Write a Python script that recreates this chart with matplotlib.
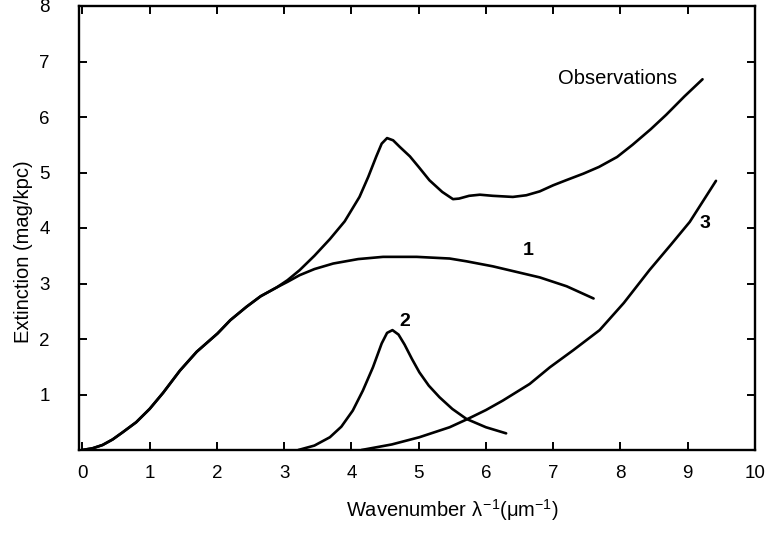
import matplotlib
matplotlib.use("Agg")
import matplotlib.pyplot as plt

plt.rcParams['font.family'] = ['Liberation Sans', 'DejaVu Sans']
plt.rcParams['mathtext.fontset'] = 'custom'
plt.rcParams['mathtext.rm'] = 'Liberation Sans'
plt.rcParams['mathtext.it'] = 'Liberation Sans'
plt.rcParams['mathtext.bf'] = 'Liberation Sans:bold'

# Observed extinction curve
obs_x = [0.0, 0.15, 0.3, 0.45, 0.6, 0.8, 1.0, 1.2, 1.45, 1.7, 2.01, 2.2, 2.44, 2.65,
         2.89, 3.05, 3.23, 3.45, 3.68, 3.9, 4.12, 4.25, 4.37, 4.45, 4.53, 4.62, 4.72,
         4.87, 5.0, 5.16, 5.35, 5.51, 5.6, 5.75, 5.91, 6.1, 6.4, 6.6, 6.8, 7.0, 7.19,
         7.45, 7.68, 7.95, 8.18, 8.45, 8.68, 8.95, 9.22]
obs_y = [0.0, 0.03, 0.09, 0.19, 0.32, 0.50, 0.74, 1.03, 1.43, 1.77, 2.10, 2.34, 2.58, 2.77,
         2.93, 3.06, 3.24, 3.50, 3.80, 4.12, 4.56, 4.92, 5.29, 5.52, 5.62, 5.58, 5.46,
         5.29, 5.10, 4.86, 4.65, 4.52, 4.53, 4.58, 4.60, 4.58, 4.56, 4.59, 4.66, 4.77, 4.86,
         4.98, 5.10, 5.28, 5.50, 5.78, 6.04, 6.37, 6.68]

# Component 1 (shares the rising part with the observations up to ~2.9)
c1_x = [0.0, 0.15, 0.3, 0.45, 0.6, 0.8, 1.0, 1.2, 1.45, 1.7, 2.01, 2.2, 2.44, 2.65,
        2.89, 3.05, 3.23, 3.45, 3.73, 4.1, 4.47, 4.97, 5.46, 5.71, 6.1, 6.45, 6.8,
        7.2, 7.6]
c1_y = [0.0, 0.03, 0.09, 0.19, 0.32, 0.50, 0.74, 1.03, 1.43, 1.77, 2.10, 2.34, 2.58, 2.77,
        2.93, 3.03, 3.15, 3.26, 3.36, 3.44, 3.48, 3.48, 3.45, 3.40, 3.31, 3.21, 3.11,
        2.95, 2.73]

# Component 2 (bump near 4.6)
c2_x = [3.21, 3.45, 3.68, 3.85, 4.02, 4.17, 4.32, 4.45, 4.53, 4.61, 4.70, 4.79, 4.9,
        5.01, 5.15, 5.31, 5.5, 5.71, 6.0, 6.3]
c2_y = [0.0, 0.08, 0.23, 0.42, 0.71, 1.07, 1.49, 1.92, 2.11, 2.16, 2.08, 1.90, 1.64,
        1.40, 1.16, 0.95, 0.74, 0.56, 0.41, 0.30]

# Component 3 (far-UV rise)
c3_x = [4.15, 4.6, 5.01, 5.46, 5.73, 6.0, 6.25, 6.65, 6.95, 7.3, 7.69, 8.05, 8.43,
        8.75, 9.03, 9.42]
c3_y = [0.0, 0.10, 0.23, 0.41, 0.56, 0.72, 0.89, 1.19, 1.49, 1.80, 2.16, 2.65, 3.24,
        3.70, 4.11, 4.85]

x_ticks = [0, 1, 2, 3, 4, 5, 6, 7, 8, 9, 10]
y_ticks = [1, 2, 3, 4, 5, 6, 7, 8]

fig = plt.figure(figsize=(7.75, 5.37), dpi=100)
ax = fig.add_axes([79 / 775, 1 - 450 / 537, 676 / 775, 444 / 537])

for xs, ys in [(obs_x, obs_y), (c1_x, c1_y), (c2_x, c2_y), (c3_x, c3_y)]:
    ax.plot(xs, ys, color="black", lw=1.9, solid_capstyle="round",
            solid_joinstyle="round")

ax.text(7.96, 6.70, "Observations", fontsize=14.5, ha="center", va="center")
ax.text(6.63, 3.60, "1", fontsize=14, fontweight="bold", ha="center", va="center")
ax.text(4.79, 2.31, "2", fontsize=14, fontweight="bold", ha="center", va="center")
ax.text(9.25, 4.08, "3", fontsize=14, fontweight="bold", ha="center", va="center")

ax.set_xlim(-0.05, 10)
ax.set_ylim(0, 8)
ax.set_xticks(x_ticks)
ax.set_yticks(y_ticks)
ax.tick_params(direction="in", length=6, width=1.4, labelsize=13.5,
               top=True, right=True, labeltop=False, labelright=False)
ax.xaxis.set_tick_params(which="major", pad=11)
ax.yaxis.set_tick_params(which="major", pad=21)
for s in ax.spines.values():
    s.set_linewidth(1.7)

ax.set_xlabel(r"Wavenumber $\lambda^{-1}$($\mu$m$^{-1}$)", fontsize=14.5)
ax.set_ylabel("Extinction (mag/kpc)", fontsize=14.5)
ax.xaxis.set_label_coords(0.552, -0.106)
ax.yaxis.set_label_coords(-0.082, 0.446)
ax.yaxis.label.set_va("center")

fig.savefig("out.png", dpi=100)
